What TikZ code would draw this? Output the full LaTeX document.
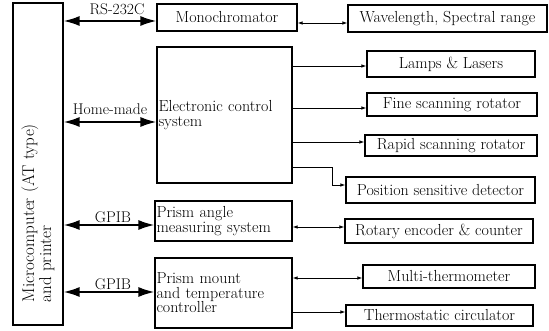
\documentclass[tikz,border=0pt]{standalone}
\usepackage{fontspec}
\usetikzlibrary{arrows.meta}
\newcommand{\heavyfont}[2]{\fontsize{#1}{#2}\selectfont\addfontfeatures{FakeBold=1.2}}
\begin{document}
\begin{tikzpicture}[x=1pt,y=-1pt,
  box/.style={draw, line width=1.1pt, inner sep=1pt, font=\heavyfont{16}{14.5}},
  lbl/.style={inner sep=1pt, font=\heavyfont{15.5}{14}},
  big/.style={line width=1.8pt, {Latex[length=16pt,width=10pt]}-{Latex[length=16pt,width=10pt]}},
  one/.style={line width=0.8pt, -{Latex[length=5pt,width=3.5pt]}},
  two/.style={line width=0.8pt, {Latex[length=5pt,width=3.5pt]}-{Latex[length=5pt,width=3.5pt]}}]
\useasboundingbox (0,0) rectangle (549,331);

\node[box, minimum width=50pt, minimum height=322pt] (mc) at (38,164)
  {\rotatebox{90}{\parbox{276pt}{\heavyfont{17}{15.5}\raggedright Microcomputer (AT type)\\ and printer}}};

\node[box, minimum width=140pt, minimum height=27pt] (mono) at (227,17.5) {Monochromator};
\node[box, minimum width=199pt, minimum height=27pt] (wave) at (447.5,18.5) {Wavelength, Spectral range};
\node[box, minimum width=135pt, minimum height=136pt, text width=132pt, align=left] (ecs) at (224.5,115) {Electronic control\\system};
\node[box, minimum width=168pt, minimum height=26pt] (lamps) at (451,64) {Lamps \& Lasers};
\node[box, minimum width=170pt, minimum height=23pt] (fine) at (452,104.5) {Fine scanning rotator};
\node[box, minimum width=172pt, minimum height=21pt] (rapid) at (451,145.5) {Rapid scanning rotator};
\node[box, minimum width=189pt, minimum height=26pt] (psd) at (440.5,190) {Position sensitive detector};
\node[box, minimum width=137pt, minimum height=40pt, text width=134pt, align=left] (pams) at (223.5,221) {Prism angle\\measuring system};
\node[box, minimum width=188pt, minimum height=24pt] (rot) at (439,231) {Rotary encoder \& counter};
\node[box, minimum width=137pt, minimum height=70pt, text width=134pt, align=left] (pmtc) at (223.5,293) {Prism mount\\and temperature\\controller};
\node[box, minimum width=172pt, minimum height=23pt] (multi) at (449,276.5) {Multi-thermometer};
\node[box, minimum width=187pt, minimum height=21pt] (thermo) at (439.5,315.5) {Thermostatic circulator};

% labels
\node[lbl] (rs) at (117,9) {RS-232C};
\node[lbl] (hm) at (110,109) {Home-made};
\node[lbl] (g1) at (113,217) {GPIB};
\node[lbl] (g2) at (113,284) {GPIB};

% thick connectors
\draw[big] (mc.east |- 0,21) -- (mono.west |- 0,21);
\draw[big] (mc.east |- 0,122) -- (ecs.west |- 0,122);
\draw[big] (mc.east |- 0,225) -- (pams.west |- 0,225);
\draw[big] (mc.east |- 0,292) -- (pmtc.west |- 0,292);

% thin connectors
\draw[two] (mono.east |- 0,23) -- (wave.west |- 0,23);
\draw[one] (ecs.east |- 0,66) -- (lamps.west |- 0,66);
\draw[one] (ecs.east |- 0,108) -- (fine.west |- 0,108);
\draw[one] (ecs.east |- 0,142) -- (rapid.west |- 0,142);
\coordinate (bend) at (332,167);
\draw[one] (ecs.east |- bend) -- (bend) |- (psd.west |- 0,185);
\draw[two] (pams.east |- 0,227) -- (rot.west |- 0,227);
\draw[two] (pmtc.east |- 0,278) -- (multi.west |- 0,278);
\draw[one] (pmtc.east |- 0,312) -- (thermo.west |- 0,312);
\end{tikzpicture}
\end{document}
